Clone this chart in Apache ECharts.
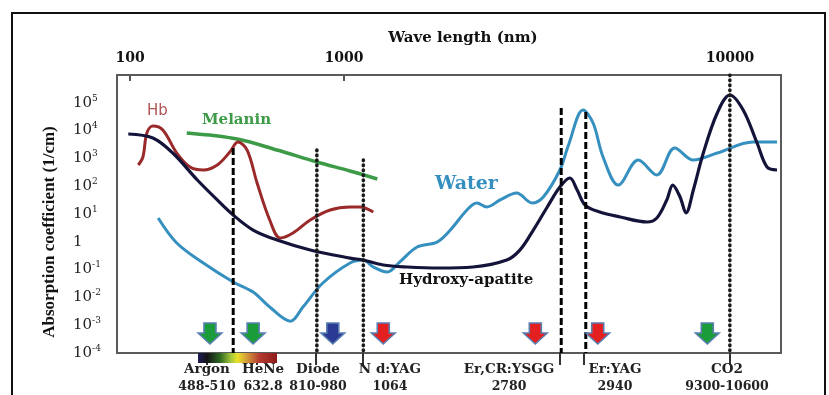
<!DOCTYPE html>
<html>
<head>
<meta charset="utf-8">
<script src="https://cdn.jsdelivr.net/npm/echarts@6/dist/echarts.min.js"></script>
<style>
  html, body { margin: 0; padding: 0; background: #fff; }
  #chart { width: 829px; height: 395px; }
</style>
</head>
<body>
<div id="chart"></div>
<script>
// x values are positions along the (non-uniform) wavelength scale of the figure, 0..100
const topTickPos = [1.96, 34.19, 92.32];
const topTickText = ['100', '1000', '10000'];

const laserTickPos = [13.55, 21.08, 29.97, 37.05, 66.72, 70.33, 92.32];
const laserLabelPos = [13.55, 21.99, 30.27, 41.11, 59.04, 75.0, 91.87];
const laserNames = ['Argon', 'HeNe', 'Diode', 'N d:YAG', 'Er,CR:YSGG', 'Er:YAG', 'CO2'];
const laserRanges = ['488-510', '632.8', '810-980', '1064', '2780', '2940', '9300-10600'];

// absorption coefficient (1/cm)
const hemoglobin = [[3.2, 579], [3.9, 1122], [4.5, 8200], [5.4, 14600], [6.9, 10500], [9.0, 1560], [11.0, 491],
  [13.0, 383], [15.1, 579], [17.0, 1700], [18.2, 3890], [19.6, 2000], [21.1, 130], [23.0, 6.1], [24.6, 1.37],
  [26.5, 2.07], [29.1, 6.1], [32.1, 13.9], [35.1, 17.9], [36.6, 17.9], [38.6, 11.8]];

const melanin = [[10.5, 8200], [18.1, 4990], [24.1, 2000], [30.1, 743], [35.1, 352], [39.2, 182]];

const water = [[6.2, 7.2], [9.0, 0.91], [13.0, 0.173], [17.5, 0.036], [20.5, 0.0156], [23.0, 0.0045],
  [26.1, 0.0014], [28.0, 0.0045], [31.0, 0.033], [35.1, 0.173], [37.1, 0.22], [38.6, 0.124], [40.7, 0.082],
  [42.6, 0.19], [45.2, 0.65], [48.2, 0.98], [50.2, 2.65], [52.7, 13.9], [54.2, 24.9], [55.7, 17.9], [57.7, 32],
  [60.2, 57], [62.5, 24.9], [64.2, 41], [66.7, 383], [68.0, 3030], [70.2, 55100], [71.7, 18750], [73.2, 1122],
  [75.5, 110], [78.5, 875], [81.3, 253], [84.0, 2370], [86.8, 875], [90.4, 1560], [95.8, 3890], [99.4, 3890]];

const hydroxyApatite = [[1.7, 7550], [5.4, 5420], [8.4, 1560], [12.1, 167], [15.1, 32], [17.5, 9.2], [20.5, 2.65],
  [24.1, 1.16], [29.1, 0.51], [35.1, 0.26], [37.1, 0.22], [40.1, 0.146], [43.7, 0.124], [48.6, 0.114],
  [53.6, 0.124], [58.7, 0.22], [60.7, 0.51], [62.7, 2.65], [64.8, 17.9], [66.7, 93], [68.2, 197], [69.3, 73],
  [70.5, 21], [72.7, 11.8], [75.8, 7.8], [79.8, 5.15], [81.3, 7.2], [82.8, 32], [83.7, 110], [84.8, 41],
  [85.7, 10.9], [86.8, 73], [88.3, 1560], [90.4, 42950], [92.3, 191000], [94.3, 55100], [96.4, 3580],
  [97.9, 491], [99.4, 383]];

// vertical marker lines: position and the value where they start
const vlineX = [17.5, 30.1, 37.1, 66.9, 70.6, 92.3];
const vlineTop = [2370, 2000, 875, 65000, 46700, 1e6];
const vlineKind = ['dash', 'dot', 'dot', 'dash', 'dash', 'dot'];

// laser arrows
const arrowX = [14.0, 20.5, 32.5, 40.1, 63.0, 72.4, 88.9];
const arrowY = 5e-4;
const arrowColor = ['#1a9c3a', '#1a9c3a', '#2b3b94', '#e41f1f', '#e41f1f', '#e41f1f', '#1a9c3a'];

const serifBold = 'DejaVu Serif';
const arrowPath = 'path://M6,0 L18,0 L18,10 L24,10 L12,21 L0,10 L6,10 Z';

const chart = echarts.init(document.getElementById('chart'));

const vlineSeries = vlineX.map((x, i) => ({
  type: 'line',
  data: [[x, vlineTop[i]], [x, 1e-4]],
  symbol: 'none',
  silent: true,
  z: 5,
  lineStyle: vlineKind[i] === 'dash'
    ? { color: '#000', width: 3, type: [7, 3] }
    : { color: '#1a1a1a', width: 3.6, type: [0.6, 4.4], cap: 'round' }
}));

function curve(data, color, width) {
  return {
    type: 'line',
    data,
    smooth: 0.35,
    symbol: 'none',
    silent: true,
    z: 3,
    lineStyle: { color, width }
  };
}

chart.setOption({
  animation: false,
  backgroundColor: '#fff',
  grid: {
    left: 117, right: 48, top: 75, bottom: 42,
    show: true, borderColor: '#5a5a5a', borderWidth: 2, backgroundColor: 'transparent'
  },
  xAxis: [
    {
      type: 'value', min: 0, max: 100, position: 'bottom',
      axisLine: { show: false },
      splitLine: { show: false },
      axisTick: { show: true, customValues: laserTickPos, length: 12, lineStyle: { color: '#333', width: 2 } },
      axisLabel: {
        customValues: laserLabelPos,
        margin: 8,
        formatter: (v) => {
          const i = laserLabelPos.findIndex((p) => Math.abs(p - v) < 0.01);
          return i < 0 ? '' : '{n|' + laserNames[i] + '}\n{r|' + laserRanges[i] + '}';
        },
        rich: {
          n: { fontFamily: serifBold, fontWeight: 'bold', fontSize: 13.5, lineHeight: 17, color: '#222' },
          r: { fontFamily: serifBold, fontWeight: 'bold', fontSize: 12.5, lineHeight: 17, color: '#222' }
        }
      }
    },
    {
      type: 'value', min: 0, max: 100, position: 'top',
      name: 'Wave length (nm)', nameLocation: 'middle', nameGap: 29,
      nameTextStyle: { fontFamily: serifBold, fontWeight: 'bold', fontSize: 15, color: '#111', padding: [0, 0, 0, 28] },
      axisLine: { show: false },
      splitLine: { show: false },
      axisTick: { show: true, inside: true, customValues: topTickPos.slice(0, 2), length: 6, lineStyle: { color: '#555', width: 2 } },
      axisLabel: {
        customValues: topTickPos,
        margin: 10,
        fontFamily: serifBold, fontWeight: 'bold', fontSize: 14, color: '#111',
        formatter: (v) => {
          const i = topTickPos.findIndex((p) => Math.abs(p - v) < 0.01);
          return i < 0 ? '' : topTickText[i];
        }
      }
    }
  ],
  yAxis: {
    type: 'log', logBase: 10, min: 1e-4, max: 1e6,
    name: 'Absorption coefficient (1/cm)', nameLocation: 'middle', nameGap: 59,
    nameTextStyle: { fontFamily: 'Liberation Serif', fontWeight: 'bold', fontSize: 17, color: '#111', padding: [0, 36, 0, 0] },
    axisLine: { show: false },
    axisTick: { show: false },
    splitLine: { show: false },
    axisLabel: {
      align: 'left', margin: 44,
      formatter: (v) => {
        const e = Math.round(Math.log10(v));
        if (e >= 6) return '';
        if (e === 0) return '{b|1}';
        return '{b|10}{s|' + e + '}';
      },
      rich: {
        b: { fontFamily: 'DejaVu Serif', fontSize: 15, color: '#222', lineHeight: 18 },
        s: { fontFamily: 'DejaVu Serif', fontSize: 9, color: '#222', verticalAlign: 'top', lineHeight: 18 }
      }
    }
  },
  series: [
    curve(melanin, '#3d9a47', 3.5),
    curve(hemoglobin, '#9a2a2a', 3),
    curve(water, '#3590c0', 3),
    curve(hydroxyApatite, '#14143a', 3.2),
    ...vlineSeries,
    {
      type: 'scatter',
      data: arrowX.map((x, i) => ({ value: [x, arrowY], itemStyle: { color: arrowColor[i] } })),
      symbol: arrowPath,
      symbolSize: [24, 21],
      silent: true,
      z: 6,
      itemStyle: { opacity: 1, borderColor: '#5b7fb2', borderWidth: 1.5 }
    }
  ],
  graphic: [
    {
      type: 'rect', z: 100, silent: true,
      shape: { x: 12, y: 13, width: 813, height: 400 },
      style: { fill: 'none', stroke: '#111', lineWidth: 2 }
    },
    {
      type: 'rect', z: 100, silent: true,
      shape: { x: 198, y: 353, width: 79, height: 10 },
      style: {
        fill: new echarts.graphic.LinearGradient(0, 0, 1, 0, [
          { offset: 0, color: '#1c1c55' },
          { offset: 0.12, color: '#151515' },
          { offset: 0.28, color: '#2f6a22' },
          { offset: 0.42, color: '#a6c83a' },
          { offset: 0.5, color: '#e9e12a' },
          { offset: 0.62, color: '#d49a3a' },
          { offset: 0.78, color: '#b33a30' },
          { offset: 1, color: '#8e1c1c' }
        ])
      }
    },
    { type: 'text', left: 147, top: 104, silent: true,
      style: { text: 'Hb', fontFamily: 'DejaVu Sans', fontSize: 15, fill: '#b05454' } },
    { type: 'text', left: 202, top: 113, silent: true,
      style: { text: 'Melanin', fontFamily: serifBold, fontWeight: 'bold', fontSize: 15, fill: '#3d9a47' } },
    { type: 'text', left: 435, top: 175, silent: true,
      style: { text: 'Water', fontFamily: serifBold, fontWeight: 'bold', fontSize: 19, fill: '#3590c0' } },
    { type: 'text', left: 399, top: 273, silent: true,
      style: { text: 'Hydroxy-apatite', fontFamily: serifBold, fontWeight: 'bold', fontSize: 15, fill: '#111' } }
  ]
});
</script>
</body>
</html>
